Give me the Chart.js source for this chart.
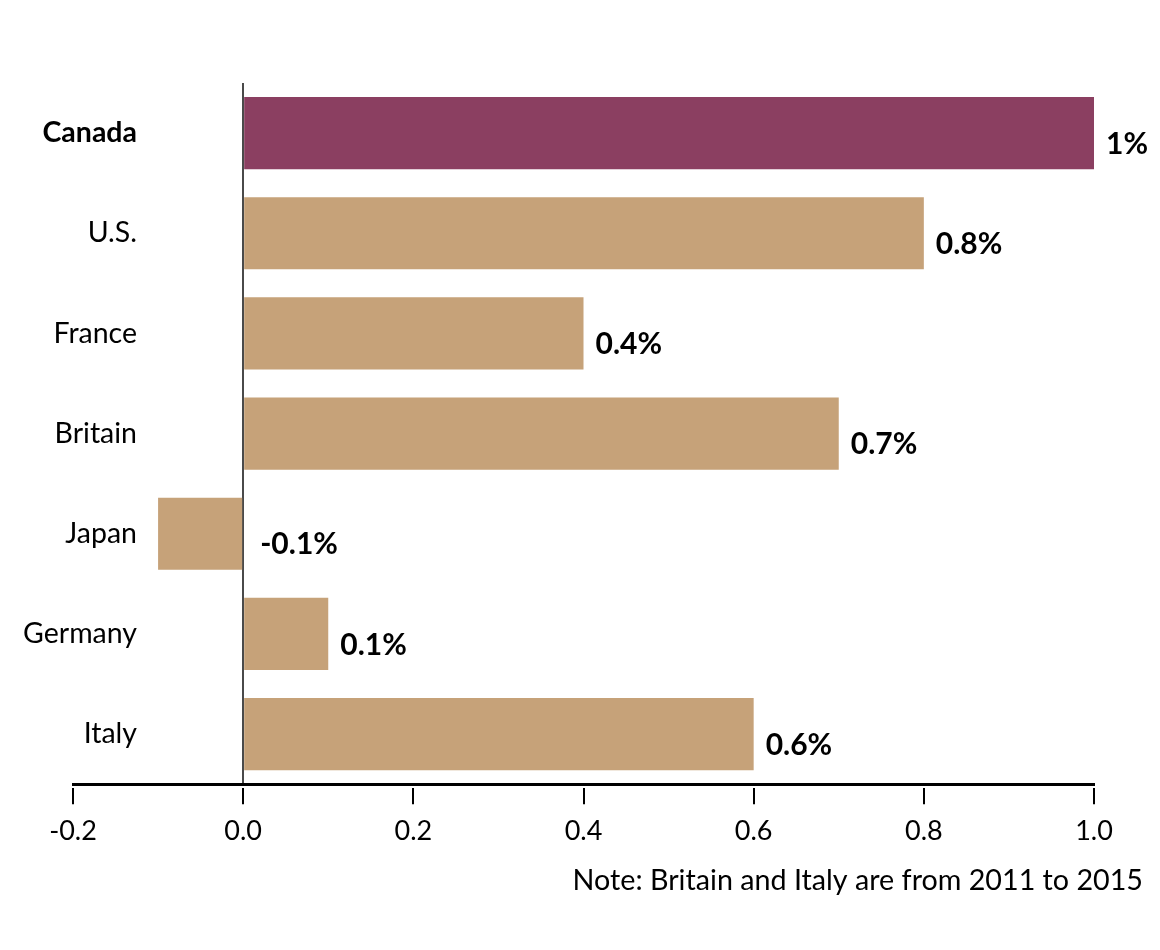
<!DOCTYPE html>
<html>
<head>
<meta charset="utf-8">
<script src="https://cdn.jsdelivr.net/npm/chart.js@4/dist/chart.umd.min.js"></script>
<style>
  html, body { margin: 0; padding: 0; background: #ffffff; }
  #wrap { width: 1160px; height: 950px; position: relative; }
</style>
</head>
<body>
<div id="wrap"><canvas id="c" width="1160" height="950"></canvas></div>
<script>
const categories = ['Canada', 'U.S.', 'France', 'Britain', 'Japan', 'Germany', 'Italy'];
const values = [1.0, 0.8, 0.4, 0.7, -0.1, 0.1, 0.6];
const valueLabels = ['1%', '0.8%', '0.4%', '0.7%', '-0.1%', '0.1%', '0.6%'];
const xTickValues = [-0.2, 0.0, 0.2, 0.4, 0.6, 0.8, 1.0];
const noteText = 'Note: Britain and Italy are from 2011 to 2015';

const FONT = 'Lato, "Open Sans", sans-serif';
const HIGHLIGHT = '#8B3F61';
const BASE = '#C6A279';

const valueLabelPlugin = {
  id: 'valueLabels',
  afterDatasetsDraw(chart) {
    const ctx = chart.ctx;
    const meta = chart.getDatasetMeta(0);
    ctx.save();
    ctx.font = 'bold 30px ' + FONT;
    ctx.fillStyle = '#000';
    ctx.textAlign = 'left';
    ctx.textBaseline = 'middle';
    meta.data.forEach((bar, i) => {
      const x = Math.max(bar.x, bar.base) + (values[i] < 0 ? 18 : 12);
      ctx.fillText(valueLabels[i], x, bar.y + 11);
    });
    ctx.restore();
  }
};

new Chart(document.getElementById('c'), {
  type: 'bar',
  data: {
    labels: categories,
    datasets: [{
      data: values,
      backgroundColor: (c) => c.dataIndex === 0 ? HIGHLIGHT : BASE,
      borderWidth: 0,
      categoryPercentage: 1.0,
      barPercentage: 0.72
    }]
  },
  options: {
    indexAxis: 'y',
    responsive: false,
    animation: false,
    events: [],
    layout: { padding: { top: 83, left: 0, right: 17, bottom: 0 } },
    plugins: {
      legend: { display: false },
      tooltip: { enabled: false },
      title: { display: false },
      subtitle: {
        display: true,
        text: noteText,
        position: 'bottom',
        align: 'end',
        color: '#000',
        font: { family: FONT, size: 28.7, weight: 'normal' },
        padding: { top: 5, bottom: 52 }
      }
    },
    scales: {
      x: {
        type: 'linear',
        min: -0.2,
        max: 1.0,
        z: 1,
        afterBuildTicks: (s) => { s.ticks = xTickValues.map(v => ({ value: v })); },
        ticks: {
          color: '#000',
          font: { family: FONT, size: 27 },
          padding: 11,
          callback: (v) => Number(v).toFixed(1)
        },
        grid: {
          color: (c) => (c.tick && Math.abs(c.tick.value) < 1e-9) ? '#4a4a4a' : 'rgba(0,0,0,0)',
          lineWidth: 2,
          drawTicks: true,
          tickLength: 20,
          tickColor: '#000',
          tickWidth: 2,
          tickBorderDash: [17, 2],
          tickBorderDashOffset: 17
        },
        border: { display: true, color: '#000', width: 3 }
      },
      y: {
        type: 'category',
        afterFit: (s) => {
          s.width = 73;
          s._computeLabelArea = () => undefined;
        },
        ticks: {
          color: '#000',
          padding: -64,
          font: (c) => ({ family: FONT, size: 28.5, weight: c.index === 0 ? 'bold' : 'normal' })
        },
        grid: { display: false, drawTicks: false },
        border: { display: false }
      },
      yPad: {
        type: 'linear',
        position: 'right',
        display: true,
        afterFit: (s) => { s.width = 49; },
        ticks: { display: false },
        grid: { display: false, drawTicks: false },
        border: { display: false }
      }
    }
  },
  plugins: [valueLabelPlugin]
});
</script>
</body>
</html>
